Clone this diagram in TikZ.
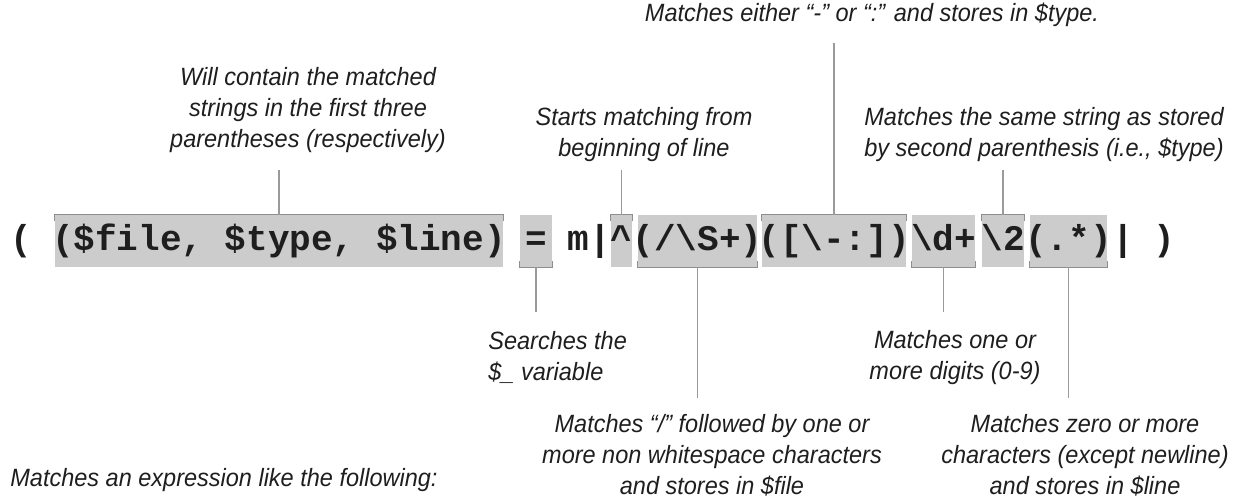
\documentclass[tikz,border=0pt]{standalone}
\usepackage{fontspec}
\usepackage{tikz}
\usetikzlibrary{positioning}
\newfontfamily\notefont[FakeStretch=0.94]{Liberation Sans}
\newfontfamily\codefont{Liberation Mono}
\definecolor{boxgray}{HTML}{CCCCCC}
\definecolor{rulegray}{HTML}{8E8E8E}
\definecolor{leadgray}{HTML}{9A9A9A}
\definecolor{inkgray}{HTML}{1E1E1E}
\newcommand{\codebit}[1]{\makebox[0pt]{#1}}

\begin{document}
\begin{tikzpicture}[x=0.5pt, y=-0.5pt,
    code/.style={anchor=base, inner sep=0pt, text=inkgray, font={\codefont\bfseries\fontsize{18}{20}\selectfont}},
    hl/.style={code, fill=boxgray, text height=17.5pt, text depth=8.5pt, minimum width=#1},
    note/.style={align=center, inner sep=0pt, text=inkgray, font={\notefont\itshape\fontsize{12.5}{15.5}\selectfont}},
    lead/.style={draw=leadgray, line width=0.6pt},
    brk/.style={draw=rulegray, line width=0.8pt}]
        \useasboundingbox (0,0) rectangle (1246,502);

        \node[code] (cOpen) at (21,250) {(};
        \node[hl=224pt] (bVars) at (279,250) {\codebit{(\$file, \$type, \$line)}};
        \node[hl=16pt] (bAssign) at (536,250) {\codebit{=}};
        \node[code] (cMatch) at (589,250) {m|};
        \node[hl=10.5pt] (bAnchor) at (621.5,250) {\codebit{\textasciicircum}};
        \node[hl=59.5pt] (bFile) at (697.5,250) {\codebit{(/\textbackslash S+)}};
        \node[hl=72pt] (bSep) at (834,250) {\codebit{([\textbackslash -:])}};
        \node[hl=31.5pt] (bDigits) at (943.5,250) {\codebit{\textbackslash d+}};
        \node[hl=21pt] (bBackref) at (1003,250) {\codebit{\textbackslash 2}};
        \node[hl=38.5pt] (bRest) at (1068.5,250) {\codebit{(.*)}};
        \node[code] (cBar) at (1123,250) {|};
        \node[code] (cClose) at (1164,250) {)};

        \foreach \b in {bVars,bAnchor,bSep,bBackref}
            \draw[brk] ([yshift=-3pt]\b.north west) -- (\b.north west) -- (\b.north east) -- ([yshift=-3pt]\b.north east);
        \foreach \b in {bAssign,bFile,bDigits,bRest}
            \draw[brk] ([yshift=3pt]\b.south west) -- (\b.south west) -- (\b.south east) -- ([yshift=3pt]\b.south east);

        \node[note] (nVars) at (308,110) {Will contain the matched\\strings in the first three\\parentheses (respectively)};
        \node[note] (nAnchor) at (644,135) {Starts matching from\\beginning of line};
        \node[note] (nSep) at (872,15) {Matches either “-” or “:” and stores in \$type.};
        \node[note] (nBackref) at (1044,135) {Matches the same string as stored\\by second parenthesis (i.e., \$type)};
        \node[note, anchor=west, align=left] (nAssign) at (488,357) {Searches the\\\$\_ variable};
        \node[note] (nDigits) at (955,358) {Matches one or\\more digits (0-9)};
        \node[note] (nFile) at (712,455) {Matches “/” followed by one or\\more non whitespace characters\\and stores in \$file};
        \node[note] (nRest) at (1085,455) {Matches zero or more\\characters (except newline)\\and stores in \$line};
        \node[note, anchor=west] (nExample) at (10,480) {Matches an expression like the following:};

        \coordinate (eVars) at (279,170);
        \coordinate (eAnchor) at (621.5,170);
        \coordinate (eSep) at (834,43);
        \coordinate (eBackref) at (1003,170);
        \coordinate (eAssign) at (536,312);
        \coordinate (eFile) at (697.5,398);
        \coordinate (eDigits) at (943.5,312);
        \coordinate (eRest) at (1068.5,398);

        \draw[lead] (bVars.north) -- (eVars);
        \draw[lead] (bAnchor.north) -- (eAnchor);
        \draw[lead] (bSep.north) -- (eSep);
        \draw[lead] (bBackref.north) -- (eBackref);
        \draw[lead] (bAssign.south) -- (eAssign);
        \draw[lead] (bFile.south) -- (eFile);
        \draw[lead] (bDigits.south) -- (eDigits);
        \draw[lead] (bRest.south) -- (eRest);
    \end{tikzpicture}
\end{document}
